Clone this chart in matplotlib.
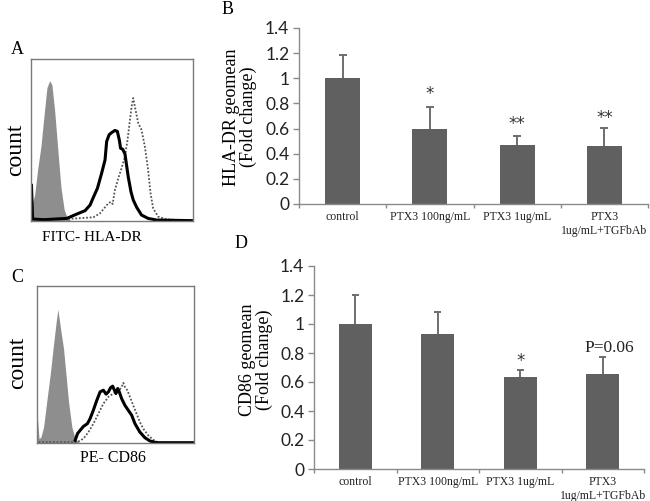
import matplotlib
matplotlib.use('Agg')
import matplotlib.pyplot as plt
import numpy as np

SERIF = ['Liberation Serif', 'DejaVu Serif']
SANS = ['Lato', 'DejaVu Sans']

# ---------------- data ----------------
categories = ['control', 'PTX3 100ng/mL', 'PTX3 1ug/mL', 'PTX3\n1ug/mL+TGFbAb']

hla_values = [1.0, 0.60, 0.472, 0.462]
hla_err_top = [1.187, 0.768, 0.543, 0.603]
hla_marks = ['', '*', '**', '**']
hla_mark_y = [0, 0.872, 0.635, 0.683]

cd86_values = [1.0, 0.93, 0.635, 0.658]
cd86_err_top = [1.2, 1.081, 0.681, 0.77]
cd86_marks = ['', '', '*', 'P=0.06']
cd86_mark_y = [0, 0, 0.742, 0.833]

y_ticks = [0, 0.2, 0.4, 0.6, 0.8, 1.0, 1.2, 1.4]
y_tick_labels = ['0', '0.2', '0.4', '0.6', '0.8', '1', '1.2', '1.4']

# Flow histograms (channel 0-100, relative count 0-100)
hla_iso_x = [0, 0.82, 2.25, 4.1, 6.15, 8.2, 9.84, 11.48, 12.9, 14.55, 16.4, 18.44, 20.5, 22.54, 25.2]
hla_iso_y = [25.4, 10.9, 16.1, 31.8, 46.2, 66.8, 82.3, 86.6, 84.1, 68.7, 46.0, 21.2, 6.8, 1.6, 0]
hla_ptx_x = [0.3, 1.0, 8.0, 15.0, 22.1, 28.3, 33.4, 36.5, 38.5, 41.0, 43.6, 45.7, 46.7, 48.2, 49.8,
             51.8, 53.3, 54.5, 55.3, 56.6, 58.0, 60.0, 61.7, 63.1, 65.2, 68.2, 72.3, 77.5, 100]
hla_ptx_y = [22.0, 1.2, 0.8, 1.2, 1.6, 4.3, 6.4, 9.9, 14.6, 20.2, 29.5, 37.7, 49.1, 53.2, 54.6,
             55.9, 55.3, 50.1, 44.9, 44.3, 41.4, 27.4, 18.1, 13.0, 8.5, 3.7, 1.6, 0.6, 0.2]
hla_ctl_x = [0.6, 22.1, 38.5, 42.6, 45.7, 47.7, 49.2, 50.4, 51.8, 53.9, 55.9, 58.0, 59.6, 61.1, 62.1,
             63.1, 64.5, 66.2, 68.2, 70.3, 72.3, 73.8, 75.4, 78.5, 83.6, 91.8, 100]
hla_ctl_y = [1.2, 1.2, 2.3, 4.7, 8.5, 10.9, 11.8, 10.5, 19.2, 26.4, 32.6, 39.8, 50.1, 62.5, 70.7,
             75.9, 68.7, 60.4, 56.3, 45.9, 31.5, 17.1, 7.8, 2.7, 1.0, 0.6, 0.4]

cd86_iso_x = [0.2, 1.3, 2.5, 4.2, 6.3, 8.5, 10.6, 12.1, 13.3, 14.4, 15.6, 16.9, 18.2, 20.1, 22.2,
              24.3, 26.4, 28.5]
cd86_iso_y = [16.6, 2.8, 3.8, 10.2, 27.2, 44.3, 63.4, 76.2, 85.1, 77.2, 68.7, 60.2, 46.4, 26.2, 10.2,
              2.8, 0.6, 0]
cd86_ptx_x = [24.3, 25.8, 27.5, 29.6, 32.1, 33.8, 35.9, 38.1, 40.2, 42.3, 44.0, 45.5, 46.9, 48.2,
              49.3, 50.3, 51.4, 52.4, 53.9, 56.0, 58.1, 60.3, 62.4, 65.5, 68.7, 71.9, 76.1, 100]
cd86_ptx_y = [1.7, 6.0, 8.1, 10.6, 12.3, 15.5, 20.9, 27.2, 32.6, 33.6, 31.1, 32.6, 35.3, 36.2,
              33.6, 31.5, 34.7, 32.6, 28.3, 24.0, 20.9, 17.7, 12.3, 7.0, 3.4, 1.3, 0.2, 0.2]
cd86_ctl_x = [1.0, 20.0, 25.4, 29.6, 32.8, 35.9, 39.1, 42.3, 45.5, 48.6, 50.7, 52.4, 53.9, 55.0, 56.0,
              57.5, 59.2, 61.3, 63.4, 65.5, 67.7, 70.8, 73.9, 77.1, 81.4, 100]
cd86_ctl_y = [0.6, 0.6, 0.4, 2.8, 7.0, 12.3, 18.7, 25.1, 29.4, 31.5, 32.6, 33.6, 35.7, 38.3, 35.7,
              33.6, 29.4, 24.0, 18.7, 13.4, 9.1, 4.9, 2.1, 0.4, 0, 0]

# ---------------- figure ----------------
W, H = 650, 501
fig = plt.figure(figsize=(W / 100, H / 100), dpi=100)
fig.patch.set_facecolor('white')


def rect(x0, y0, x1, y1):
    return [x0 / W, 1 - y1 / H, (x1 - x0) / W, (y1 - y0) / H]


def ftext(x, y, s, **kw):
    fig.text(x / W, 1 - y / H, s, **kw)


BAR_C = '#606060'
SPINE_C = '#8a8a8a'
ERR_C = '#6e6e6e'


def histo(box, iso_x, iso_y, ptx_x, ptx_y, ctl_x, ctl_y):
    ax = fig.add_axes(box)
    ax.fill_between(iso_x, iso_y, 0, color='#8e8e8e', lw=0)
    ax.plot(ctl_x, ctl_y, color='#555555', lw=1.3, linestyle=(0, (1, 1)))
    ax.plot(ptx_x, ptx_y, color='black', lw=2.2, solid_joinstyle='round')
    ax.set_xlim(0, 100)
    ax.set_ylim(0, 100)
    ax.set_xticks([])
    ax.set_yticks([])
    for s in ax.spines.values():
        s.set_color('#7a7a7a')
        s.set_linewidth(1.0)
    return ax


histo(rect(31, 59, 193, 221), hla_iso_x, hla_iso_y, hla_ptx_x, hla_ptx_y, hla_ctl_x, hla_ctl_y)
histo(rect(37, 286, 194, 443), cd86_iso_x, cd86_iso_y, cd86_ptx_x, cd86_ptx_y, cd86_ctl_x, cd86_ctl_y)

ftext(17, 50, 'A', family=SERIF, fontsize=13, ha='center', va='center')
ftext(16, 150, 'count', family=SERIF, fontsize=17, rotation=90, ha='center', va='center')
ftext(92, 237, 'FITC- HLA-DR', family=SERIF, fontsize=11, ha='center', va='center')
ftext(17, 277, 'C', family=SERIF, fontsize=13, ha='center', va='center')
ftext(18, 363, 'count', family=SERIF, fontsize=17, rotation=90, ha='center', va='center')
ftext(113, 458, 'PE- CD86', family=SERIF, fontsize=11.5, ha='center', va='center')


def barpanel(box, values, err_top, marks, mark_y):
    ax = fig.add_axes(box)
    x = np.arange(len(categories))
    ax.vlines(x, values, err_top, color=ERR_C, lw=1.4, zorder=1)
    ax.hlines(err_top, x - 0.045, x + 0.045, color=ERR_C, lw=1.4, zorder=1)
    ax.bar(x, values, width=0.4, color=BAR_C, zorder=2)
    for xi, m, my in zip(x, marks, mark_y):
        if m:
            if m.startswith('*'):
                ax.text(xi, my, m, ha='center', va='center', fontsize=12,
                        family=['DejaVu Sans'], color='#333333')
            else:
                ax.text(xi + 0.08, my, m, ha='center', va='center', fontsize=12.5,
                        family=SERIF, color='#222222')
    ax.set_xlim(-0.5, len(categories) - 0.5)
    ax.set_ylim(0, 1.4)
    ax.set_yticks(y_ticks)
    ax.set_yticklabels(y_tick_labels, family=SANS, fontsize=12.5, color='#222222')
    ax.set_xticks(np.arange(len(categories) + 1) - 0.5)
    ax.set_xticklabels([])
    ax.set_xticks(x, minor=True)
    ax.set_xticklabels(categories, minor=True, family=SERIF, fontsize=8.5, color='#222222',
                       linespacing=1.25)
    ax.tick_params(axis='x', which='minor', length=0, pad=5)
    ax.tick_params(axis='x', which='major', length=3, width=1, color=SPINE_C, direction='out')
    ax.tick_params(axis='y', length=4, width=1, color=SPINE_C, direction='out', pad=3)
    for s in ['top', 'right']:
        ax.spines[s].set_visible(False)
    for s in ['left', 'bottom']:
        ax.spines[s].set_color(SPINE_C)
        ax.spines[s].set_linewidth(1.0)
    ax.patch.set_alpha(0)
    return ax


barpanel(rect(299, 28, 648, 204), hla_values, hla_err_top, hla_marks, hla_mark_y)
barpanel(rect(314, 266, 644, 469), cd86_values, cd86_err_top, cd86_marks, cd86_mark_y)

ftext(228, 10, 'B', family=SERIF, fontsize=13, ha='center', va='center')
ftext(241, 244, 'D', family=SERIF, fontsize=13, ha='center', va='center')
ftext(240, 117, 'HLA-DR geomean\n(Fold change)', family=SERIF, fontsize=13, rotation=90,
      ha='center', va='center', linespacing=1.0)
ftext(256, 360, 'CD86 geomean\n(Fold change)', family=SERIF, fontsize=13, rotation=90,
      ha='center', va='center', linespacing=1.0)

fig.savefig('out.png', dpi=100)
